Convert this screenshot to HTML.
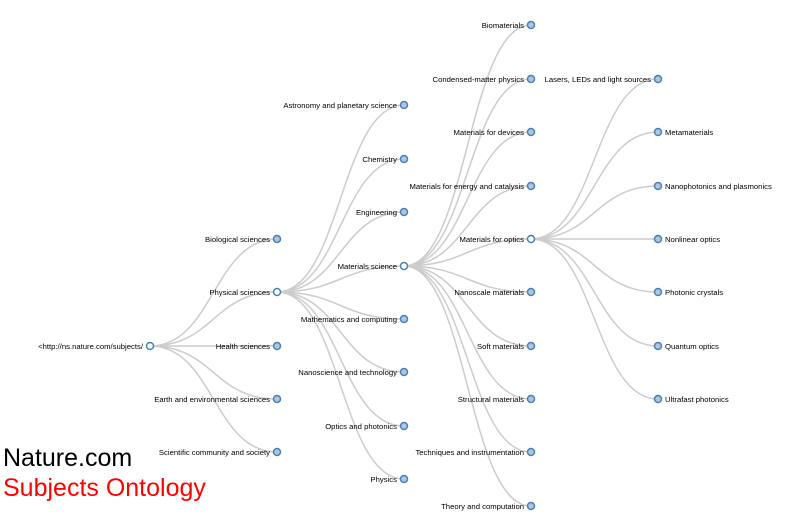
<!DOCTYPE html>
<html><head><meta charset="utf-8"><style>
html,body{margin:0;padding:0;background:#fff;}
svg{display:block;}
.l{fill:none;stroke:#ccc;stroke-width:1.5;}
.n{stroke:steelblue;stroke-width:1.5;}
text{font-family:"Liberation Sans",Arial,sans-serif;font-size:7.7px;fill:#000;}
</style></head><body>
<svg width="800" height="528" viewBox="0 0 800 528" xmlns="http://www.w3.org/2000/svg">
<g id="links"></g>
<g id="nodes"></g>
<text x="3" y="466" style="font-size:25px">Nature.com</text>
<text x="3" y="496" style="font-size:25px;fill:#f00">Subjects Ontology</text>
</svg>
<script>
var ns="http://www.w3.org/2000/svg";
var L=document.getElementById("links"),N=document.getElementById("nodes");
function link(sx,sy,tx,ty){var m=(sx+tx)/2;var p=document.createElementNS(ns,"path");p.setAttribute("class","l");p.setAttribute("d","M"+sx+","+sy+"C"+m+","+sy+" "+m+","+ty+" "+tx+","+ty);L.appendChild(p);}
function node(x,y,t,open,right){var c=document.createElementNS(ns,"circle");c.setAttribute("class","n");c.setAttribute("cx",x);c.setAttribute("cy",y);c.setAttribute("r",3.5);c.setAttribute("fill",open?"#fff":"#b0c4de");N.appendChild(c);
var e=document.createElementNS(ns,"text");e.setAttribute("x",right?x+7:x-7);e.setAttribute("y",y+3);e.setAttribute("text-anchor",right?"start":"end");e.textContent=t;N.appendChild(e);}
node(150,346,"<http://ns.nature.com/subjects/",true);
var l1=[["Biological sciences",239],["Physical sciences",292,1],["Health sciences",346],["Earth and environmental sciences",399],["Scientific community and society",452]];
l1.forEach(function(a){link(150,346,277,a[1]);node(277,a[1],a[0],a[2]);});
var l2=[["Astronomy and planetary science",105],["Chemistry",159],["Engineering",212],["Materials science",266,1],["Mathematics and computing",319],["Nanoscience and technology",372],["Optics and photonics",426],["Physics",479]];
l2.forEach(function(a){link(277,292,404,a[1]);node(404,a[1],a[0],a[2]);});
var l3=[["Biomaterials",25],["Condensed-matter physics",79],["Materials for devices",132],["Materials for energy and catalysis",186],["Materials for optics",239,1],["Nanoscale materials",292],["Soft materials",346],["Structural materials",399],["Techniques and instrumentation",452],["Theory and computation",506]];
l3.forEach(function(a){link(404,266,531,a[1]);node(531,a[1],a[0],a[2]);});
var l4=[["Lasers, LEDs and light sources",79],["Metamaterials",132],["Nanophotonics and plasmonics",186],["Nonlinear optics",239],["Photonic crystals",292],["Quantum optics",346],["Ultrafast photonics",399]];
l4.forEach(function(a){link(531,239,658,a[1]);node(658,a[1],a[0],false,a[0].indexOf("Lasers")!==0);});
</script>
</body></html>
